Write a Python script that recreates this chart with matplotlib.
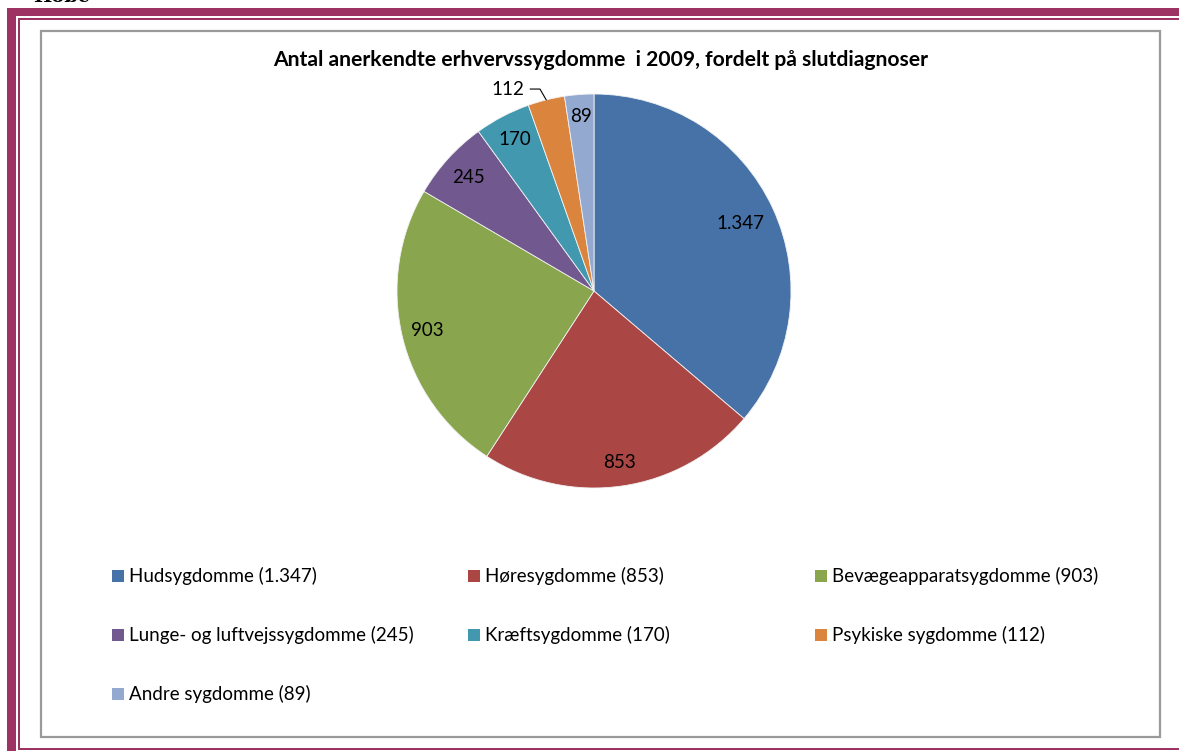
import matplotlib
matplotlib.use("Agg")
import matplotlib.pyplot as plt
from matplotlib.patches import Rectangle
import numpy as np

title = "Antal anerkendte erhvervssygdomme  i 2009, fordelt på slutdiagnoser"
categories = ["Hudsygdomme", "Høresygdomme", "Bevægeapparatsygdomme",
              "Lunge- og luftvejssygdomme", "Kræftsygdomme", "Psykiske sygdomme",
              "Andre sygdomme"]
values = [1347, 853, 903, 245, 170, 112, 89]
value_labels = ["1.347", "853", "903", "245", "170", "112", "89"]
colors = ["#4672A8", "#AA4744", "#89A54E", "#71598F", "#4298AF", "#DB843D", "#93A9CF"]
label_radius = [0.82, 0.88, 0.87, 0.86, 0.87, None, 0.89]

W, H = 1179, 751
fig = plt.figure(figsize=(W / 100, H / 100), dpi=100)
fig.patch.set_facecolor("white")
FONT = ["Lato", "DejaVu Sans"]

def fx(px):
    return px / W

def fy(py):
    return 1 - py / H

maroon = "#9C3363"
# page frame
fig.patches.append(Rectangle((fx(7), fy(16)), 1 - fx(7), 8 / H, transform=fig.transFigure,
                             color=maroon, lw=0))
fig.patches.append(Rectangle((fx(7), 0), 9 / W, fy(8), transform=fig.transFigure, color=maroon, lw=0))
fig.patches.append(Rectangle((fx(18), fy(20)), 1 - fx(18), 2 / H, transform=fig.transFigure,
                             color=maroon, lw=0))
fig.patches.append(Rectangle((fx(18), fy(750)), 2 / W, fy(18) - fy(750), transform=fig.transFigure,
                             color=maroon, lw=0))
fig.patches.append(Rectangle((fx(18), fy(750)), 1 - fx(18), 2 / H, transform=fig.transFigure,
                             color=maroon, lw=0))
# chart box
fig.patches.append(Rectangle((fx(41), fy(737)), fx(1160) - fx(41), fy(31) - fy(737),
                             transform=fig.transFigure, fill=False, edgecolor="#9a9a9a", lw=1.6))
# cut-off heading text above the frame (only its lower edge is visible)
fig.text(fx(33), fy(2.5), "Hobe", fontsize=14, family="DejaVu Serif", fontweight="bold",
         ha="left", va="baseline", color="black")

# title
fig.text(fx(601), fy(60), title, fontsize=15.2, fontweight="bold", family=FONT,
         ha="center", va="center")

# pie
cx, cy, r = 594, 291, 197
ax = fig.add_axes([fx(cx - r), fy(cy + r), 2 * r / W, 2 * r / H])
wedges, _ = ax.pie(values, colors=colors, startangle=90, counterclock=False,
                   wedgeprops=dict(edgecolor="#f2f2f2", linewidth=0.6))
ax.set_xlim(-1, 1)
ax.set_ylim(-1, 1)
ax.set_aspect("equal")
ax.axis("off")

for w, lab, rr in zip(wedges, value_labels, label_radius):
    ang = np.deg2rad((w.theta1 + w.theta2) / 2)
    if rr is not None:
        ax.text(rr * np.cos(ang), rr * np.sin(ang), lab, ha="center", va="center",
                fontsize=13.5, family=FONT, clip_on=False)
    else:
        ex, ey = np.cos(ang), np.sin(ang)
        ax.annotate(lab, xy=(ex, ey), xytext=(ex - 0.11, ey + 0.055),
                    ha="right", va="center", fontsize=13.5, family=FONT,
                    annotation_clip=False,
                    arrowprops=dict(arrowstyle="-", color="black", lw=0.8,
                                    connectionstyle="angle,angleA=0,angleB=120,rad=0",
                                    shrinkA=2, shrinkB=0))

# legend
col_x = [112, 468, 815]
row_y = [576, 635, 694]
for i, (cat, lab, c) in enumerate(zip(categories, value_labels, colors)):
    x = col_x[i % 3]
    y = row_y[i // 3]
    fig.patches.append(Rectangle((fx(x), fy(y + 6)), 12 / W, 12 / H, transform=fig.transFigure,
                                 color=c, lw=0))
    fig.text(fx(x + 17), fy(y), f"{cat} ({lab})", fontsize=13.5, family=FONT,
             ha="left", va="center")

fig.savefig("out.png", dpi=100)
